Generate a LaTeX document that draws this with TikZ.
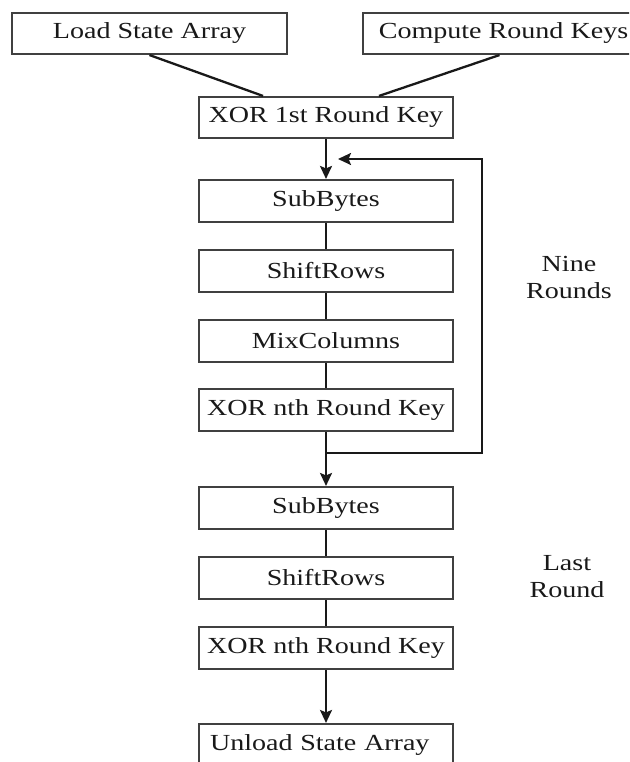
\documentclass[tikz,border=0pt]{standalone}
\usepackage{fontspec}
\setmainfont{Liberation Serif}[FakeStretch=1.22]
\usepackage{tikz}
\usetikzlibrary{arrows.meta}

\begin{document}
\begin{tikzpicture}[x=1pt, y=-1pt,
    stage/.style={draw=black!75, line width=2.1pt, text=black!90, minimum width=254pt, minimum height=42pt, inner sep=0pt, font=\fontsize{23}{27}\selectfont},
    link/.style={line width=2.3pt, black!90},
    arr/.style={link, -{Stealth[length=13pt, width=12pt, inset=2.5pt]}},
    note/.style={align=center, text=black!90, font=\fontsize{23}{27}\selectfont}]
  \useasboundingbox (0,0) rectangle (629,762);
  \clip (0,0) rectangle (629,762);
  % inputs
  \node[stage, minimum width=275pt, minimum height=41pt] (load) at (149.5,33.5) {Load State Array};
  \node[stage, minimum width=281pt, minimum height=41pt] (keys) at (503.5,33.5) {Compute Round Keys};
  \node[stage, minimum height=41pt] (xor1) at (326,117.5) {XOR 1st Round Key};
  % nine rounds
  \node[stage] (sub1) at (326,201) {SubBytes};
  \node[stage] (shift1) at (326,271) {ShiftRows};
  \node[stage] (mix1) at (326,341) {MixColumns};
  \node[stage] (xorn1) at (326,410) {XOR nth Round Key};
  % last round
  \node[stage] (sub2) at (326,508) {SubBytes};
  \node[stage] (shift2) at (326,578) {ShiftRows};
  \node[stage] (xorn2) at (326,648) {XOR nth Round Key};
  \node[stage, text width=232pt, inner xsep=11pt, align=left] (unload) at (326,745) {Unload State Array};
  % side labels
  \node[note] (nine) at (569,277) {Nine\\Rounds};
  \node[note] (last) at (567,577) {Last\\Round};
  % connectors
  \draw[link] (load.south) -- ([xshift=-63pt]xor1.north);
  \draw[link] ([xshift=-4pt]keys.south) -- ([xshift=53pt]xor1.north);
  \draw[arr] (xor1) -- (sub1);
  \draw[link] (sub1) -- (shift1);
  \draw[link] (shift1) -- (mix1);
  \draw[link] (mix1) -- (xorn1);
  \draw[arr] (xorn1) -- (sub2);
  \draw[link] (sub2) -- (shift2);
  \draw[link] (shift2) -- (xorn2);
  \draw[arr] (xorn2) -- (unload);
  % loop back
  \coordinate (split) at (326,453);
  \coordinate (back) at (338,159);
  \draw[arr] (split) -- (482,453) -- (482,159) -- (back);
\end{tikzpicture}
\end{document}
